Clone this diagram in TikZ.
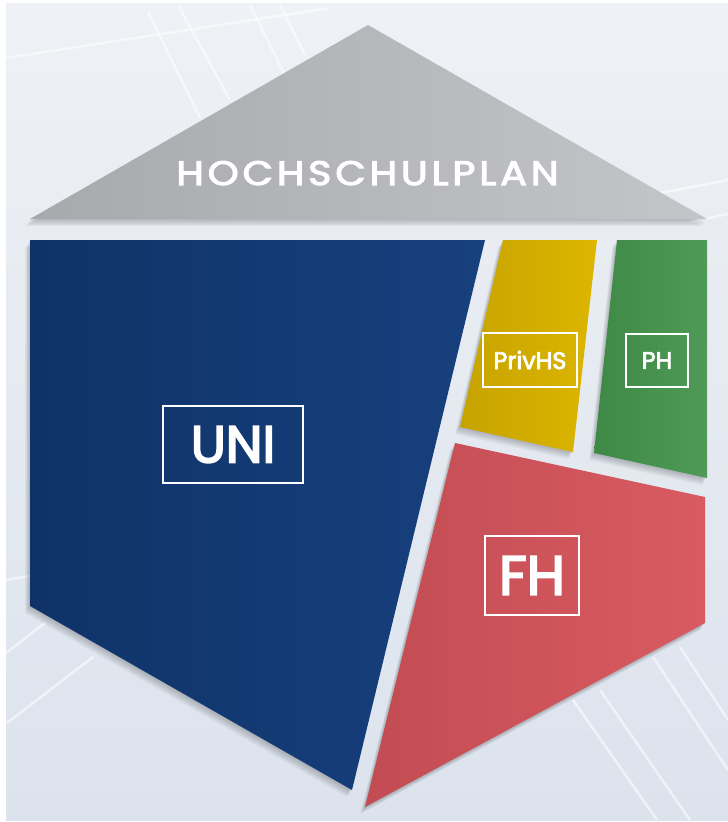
\documentclass[tikz,border=0pt]{standalone}
\usepackage{fontspec}
\setmainfont{Poppins}
\usetikzlibrary{positioning}

\definecolor{bgtop}{HTML}{EEF1F5}
\definecolor{bgbot}{HTML}{DCE3ED}
\definecolor{roofL}{HTML}{A7A9AC}
\definecolor{roofR}{HTML}{C3C5C8}
\definecolor{uniL}{HTML}{0F3367}
\definecolor{uniR}{HTML}{17407E}
\definecolor{privL}{HTML}{C6A300}
\definecolor{privR}{HTML}{DDB600}
\definecolor{phL}{HTML}{3E8946}
\definecolor{phR}{HTML}{4F9A56}
\definecolor{fhL}{HTML}{C24C53}
\definecolor{fhR}{HTML}{D95B61}

\tikzset{
  tagbox/.style={draw=white, line width=2pt, text=white, inner sep=0pt},
  bgline/.style={white, opacity=0.55, line width=2.5pt},
}

\begin{document}
\begin{tikzpicture}[x=1pt, y=-1pt]
    % Define the blocks
    \def\roofPath{(368,25) -- (707,219) -- (30,219) -- cycle}
    \def\uniPath{(30,240) -- (485,240) -- (352,790) -- (30,606) -- cycle}
    \def\privPath{(503,240) -- (597,240) -- (573,452) -- (460,427) -- cycle}
    \def\phPath{(617,240) -- (707,240) -- (707,478) -- (594,453) -- cycle}
    \def\fhPath{(455,443) -- (705,497) -- (705,623) -- (365,807) -- cycle}

    % Page and background
    \fill[white] (0,0) rectangle (728,822);
    \shade[top color=bgtop, bottom color=bgbot] (6,3) rectangle (728,820);
    \useasboundingbox (0,0) rectangle (728,822);

    % Background lines
    \draw[bgline] (6,58) -- (330,8);
    \draw[bgline] (148,12) -- (200,118);
    \draw[bgline] (178,5) -- (230,100);
    \draw[bgline] (250,5) -- (285,75);
    \draw[bgline] (280,5) -- (305,55);
    \draw[bgline] (660,193) -- (728,180);
    \draw[bgline] (690,222) -- (728,214);
    \draw[bgline] (6,580) -- (30,576);
    \draw[bgline] (6,653) -- (45,623);
    \draw[bgline] (7,723) -- (93,657);
    \draw[bgline] (653,657) -- (728,770);
    \draw[bgline] (680,647) -- (728,720);
    \draw[bgline] (573,700) -- (657,820);
    \draw[bgline] (600,690) -- (690,820);

    % Soft shadows
    \foreach \s in {1,...,6} {
      \fill[black, opacity=0.04, shift={(-0.8*\s,1.2*\s)}] \roofPath;
      \fill[black, opacity=0.04, shift={(-0.8*\s,1.2*\s)}] \uniPath;
      \fill[black, opacity=0.04, shift={(-0.8*\s,1.2*\s)}] \privPath;
      \fill[black, opacity=0.04, shift={(-0.8*\s,1.2*\s)}] \phPath;
      \fill[black, opacity=0.04, shift={(-0.8*\s,1.2*\s)}] \fhPath;
    }

    % The blocks
    \shade[left color=roofL, right color=roofR] \roofPath;
    \shade[left color=uniL, right color=uniR] \uniPath;
    \shade[left color=privL, right color=privR] \privPath;
    \shade[left color=phL, right color=phR] \phPath;
    \shade[left color=fhL, right color=fhR] \fhPath;

    % Labels
    \node[text=white, anchor=base, xscale=1.16, transform shape,
      font=\fontsize{34}{34}\selectfont\addfontfeature{FakeBold=3,LetterSpace=10}]
      (plan) at (367.5,185) {HOCHSCHULPLAN};
    \node[tagbox, minimum width=140pt, minimum height=77pt,
      font=\fontsize{52}{52}\selectfont\addfontfeature{FakeBold=3.5}] (uni) at (233,444.5) {UNI};
    \node[tagbox, minimum width=94pt, minimum height=79pt,
      font=\fontsize{55}{55}\selectfont\addfontfeature{FakeBold=3.5}] (fh) at (532,575.5) {FH};
    \node[tagbox, minimum width=94pt, minimum height=54pt,
      font=\fontsize{24}{24}\selectfont\addfontfeature{FakeBold=3}] (priv) at (530,360) {PrivHS};
    \node[tagbox, minimum width=62pt, minimum height=53pt,
      font=\fontsize{24}{24}\selectfont\addfontfeature{FakeBold=3}] (ph) at (657,360.5) {PH};
\end{tikzpicture}
\end{document}
